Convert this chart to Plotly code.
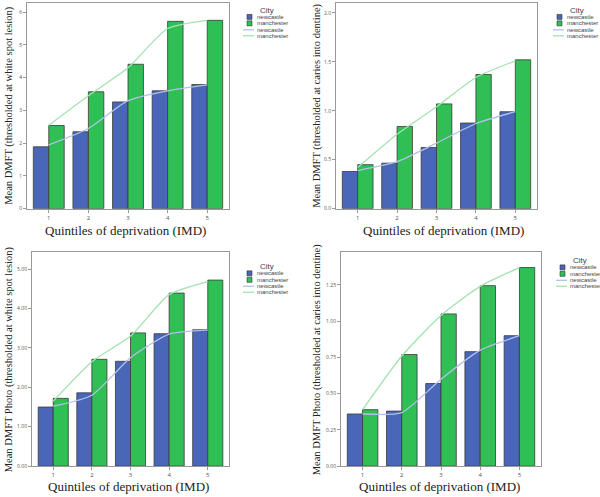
import plotly.graph_objects as go

quintiles = [1, 2, 3, 4, 5]

# top-left: Mean DMFT (white spot lesion)
ws_newcastle = [1.89, 2.35, 3.26, 3.60, 3.79]
ws_manchester = [2.54, 3.57, 4.41, 5.72, 5.75]
ws_newcastle_fit = [1.95, 2.45, 3.30, 3.60, 3.78]
ws_manchester_fit = [2.55, 3.45, 4.30, 5.50, 5.75]

# top-right: Mean DMFT (caries into dentine)
cd_newcastle = [0.38, 0.465, 0.625, 0.875, 0.99]
cd_manchester = [0.45, 0.84, 1.07, 1.37, 1.52]
cd_newcastle_fit = [0.39, 0.48, 0.67, 0.87, 0.99]
cd_manchester_fit = [0.42, 0.76, 1.04, 1.34, 1.51]

# bottom-left: Mean DMFT Photo (white spot lesion)
pws_newcastle = [1.50, 1.86, 2.66, 3.36, 3.46]
pws_manchester = [1.72, 2.71, 3.38, 4.39, 4.72]
pws_newcastle_fit = [1.52, 1.80, 2.75, 3.35, 3.45]
pws_manchester_fit = [1.65, 2.65, 3.30, 4.35, 4.68]

# bottom-right: Mean DMFT Photo (caries into dentine)
pcd_newcastle = [0.36, 0.38, 0.57, 0.79, 0.90]
pcd_manchester = [0.39, 0.77, 1.05, 1.245, 1.37]
pcd_newcastle_fit = [0.36, 0.37, 0.60, 0.80, 0.90]
pcd_manchester_fit = [0.39, 0.76, 1.04, 1.24, 1.37]

y_titles = [
    "Mean DMFT (thresholded at white spot lesion)",
    "Mean DMFT (thresholded at caries into dentine)",
    "Mean DMFT Photo (thresholded at white spot lesion)",
    "Mean DMFT Photo (thresholded at caries into dentine)",
]
x_title = "Quintiles of deprivation (IMD)"
legend_title = "City"
city_names = ["newcastle", "manchester"]

ytick_vals = [
    [0, 1, 2, 3, 4, 5, 6],
    [0, 0.5, 1.0, 1.5, 2.0],
    [0, 1, 2, 3, 4, 5],
    [0, 0.25, 0.5, 0.75, 1.0, 1.25],
]
ytick_text = [
    ["0", "1", "2", "3", "4", "5", "6"],
    ["0.0", "0.5", "1.0", "1.5", "2.0"],
    ["0.00", "1.00", "2.00", "3.00", "4.00", "5.00"],
    ["0.00", "0.25", "0.50", "0.75", "1.00", "1.25"],
]
y_max = [6.28, 2.10, 5.42, 1.474]

panels = [
    (ws_newcastle, ws_manchester, ws_newcastle_fit, ws_manchester_fit),
    (cd_newcastle, cd_manchester, cd_newcastle_fit, cd_manchester_fit),
    (pws_newcastle, pws_manchester, pws_newcastle_fit, pws_manchester_fit),
    (pcd_newcastle, pcd_manchester, pcd_newcastle_fit, pcd_manchester_fit),
]

W, H = 600, 497
# plot boxes in pixels: (left, right, top, bottom)
boxes = [(27, 229, 3, 210), (336, 537, 3, 210), (32, 229, 254, 469), (341, 541, 254, 469)]
# legend anchor: left of the swatches, top of "City"
legend_pos = [(246, 4), (556, 4), (246, 262), (559, 256)]
xtitle_pos = [(125, 232), (443, 232), (128, 489), (440, 489)]
ytitle_x = [9, 317, 9, 317]

blue = "#4a66b9"
green = "#2fbf55"
blue_line = "#b3c1ea"
green_line = "#a3e3b1"


def px(x):
    return x / W


def py(y):
    return 1 - y / H


fig = go.Figure()
annotations = []
shapes = []
layout = {}

for p, (nc, mc, nc_fit, mc_fit) in enumerate(panels):
    n = p + 1
    xa = "x" if n == 1 else f"x{n}"
    ya = "y" if n == 1 else f"y{n}"
    for name, vals, col in [(city_names[0], nc, blue), (city_names[1], mc, green)]:
        fig.add_trace(go.Bar(
            x=quintiles, y=vals, name=name, marker_color=col,
            marker_line=dict(color="#3a3a3a", width=0.8),
            xaxis=xa, yaxis=ya, offsetgroup=name, showlegend=False,
        ))
    for name, vals, col in [(city_names[0], nc_fit, blue_line), (city_names[1], mc_fit, green_line)]:
        fig.add_trace(go.Scatter(
            x=quintiles, y=vals, name=name, mode="lines",
            line=dict(color=col, width=1.3, shape="spline", smoothing=0.6),
            xaxis=xa, yaxis=ya, showlegend=False,
        ))

    l, r, t, b = boxes[p]
    sfx = "" if n == 1 else str(n)
    layout["xaxis" + sfx] = dict(
        domain=[px(l), px(r)], anchor=ya, range=[0.45, 5.55],
        tickvals=quintiles, ticks="outside", ticklen=3, tickcolor="#999",
        tickfont=dict(size=6, color="#555"), showgrid=False, zeroline=False,
        showline=True, linecolor="#999", linewidth=1, mirror=True,
    )
    layout["yaxis" + sfx] = dict(
        domain=[py(b), py(t)], anchor=xa, range=[0, y_max[p]],
        tickvals=ytick_vals[p], ticktext=ytick_text[p], ticks="outside",
        ticklen=3, tickcolor="#999", tickfont=dict(size=5, color="#555"),
        showgrid=False, zeroline=False,
        showline=True, linecolor="#999", linewidth=1, mirror=True,
    )

    # hand-made legend (SPSS style, compact)
    lx, ly = legend_pos[p]
    annotations.append(dict(
        text=legend_title, x=px(lx + 12), y=py(ly), xref="paper", yref="paper",
        xanchor="left", yanchor="top", showarrow=False,
        font=dict(size=8, color="#444", family="Arial"),
    ))
    rows = [(city_names[0], "box", blue), (city_names[1], "box", green),
            (city_names[0], "line", blue_line), (city_names[1], "line", green_line)]
    row_y = [ly + 13, ly + 19.5, ly + 26, ly + 32]
    for (name, kind, col), yy in zip(rows, row_y):
        if kind == "box":
            shapes.append(dict(
                type="rect", xref="paper", yref="paper",
                x0=px(lx + 1), x1=px(lx + 6), y0=py(yy - 2.5), y1=py(yy + 2.5),
                fillcolor=col, line=dict(color="#333", width=0.6),
            ))
        else:
            shapes.append(dict(
                type="line", xref="paper", yref="paper",
                x0=px(lx - 3), x1=px(lx + 8), y0=py(yy), y1=py(yy),
                line=dict(color=col, width=1.3),
            ))
        annotations.append(dict(
            text=name, x=px(lx + 9), y=py(yy), xref="paper", yref="paper",
            xanchor="left", yanchor="middle", showarrow=False,
            font=dict(size=6, color="#444", family="Arial"),
        ))

    xt, yt = xtitle_pos[p]
    annotations.append(dict(
        text=x_title, x=px(xt), y=py(yt), xref="paper", yref="paper",
        xanchor="center", yanchor="middle", showarrow=False,
        font=dict(family="Liberation Serif", size=13, color="#222"),
    ))
    annotations.append(dict(
        text=y_titles[p], x=px(ytitle_x[p]), y=py((t + b) / 2),
        xref="paper", yref="paper", xanchor="center", yanchor="middle",
        showarrow=False, textangle=-90,
        font=dict(family="Liberation Serif", size=10.5, color="#222"),
    ))

fig.update_layout(
    width=W, height=H, margin=dict(l=0, r=0, t=0, b=0),
    paper_bgcolor="white", plot_bgcolor="white", showlegend=False,
    barmode="group", bargap=0.22, bargroupgap=0,
    annotations=annotations, shapes=shapes, **layout,
)

# drop the browser's default 8px body margin so the figure sits at the page corner
fig.write_html("out.html", config={"displayModeBar": False},
               post_script="document.body.style.margin='0';")
